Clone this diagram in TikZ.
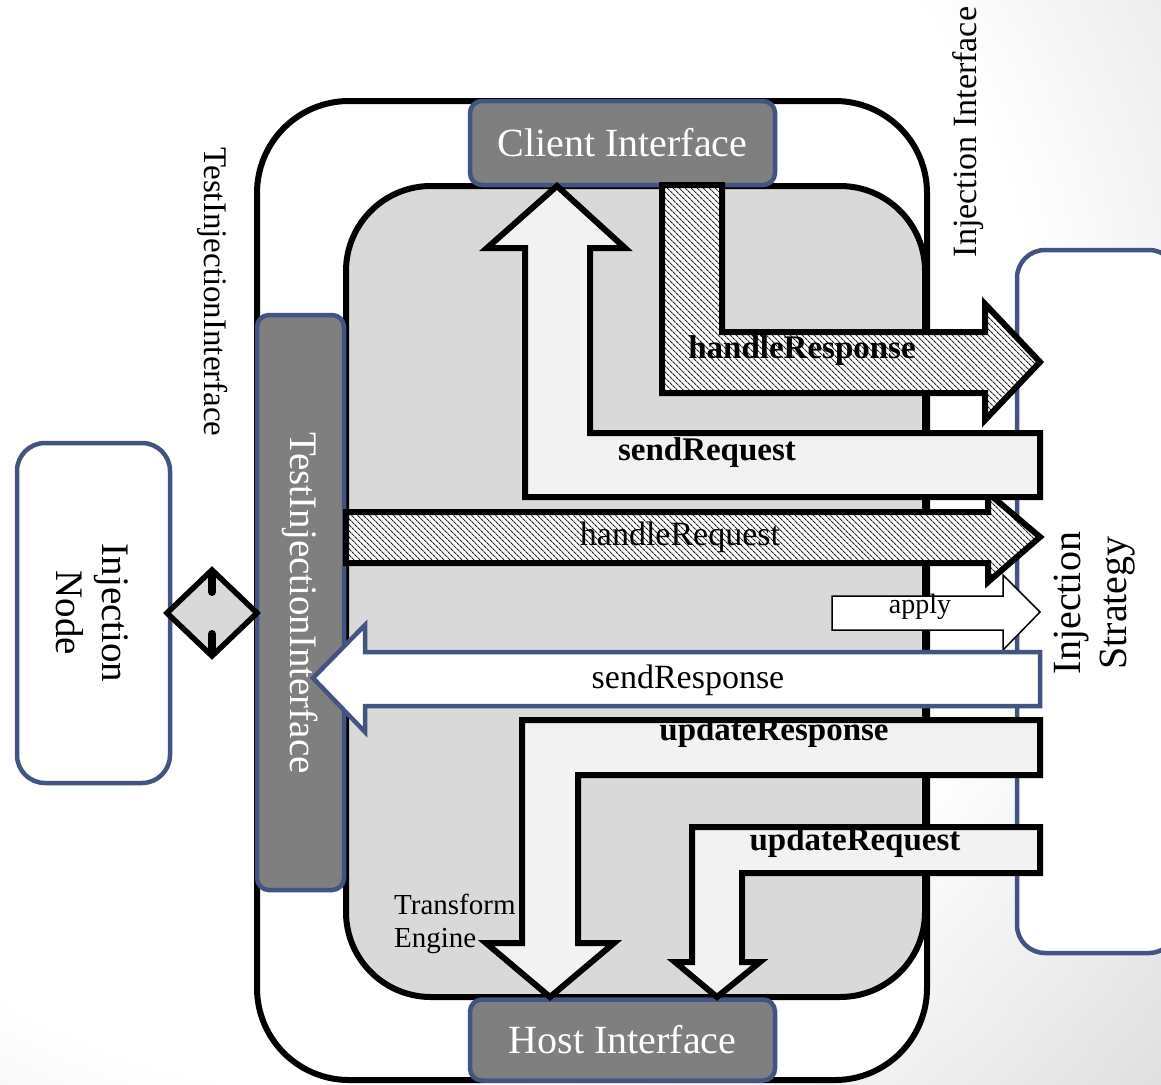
\documentclass[tikz,border=0pt]{standalone}
\usepackage{fontspec}
\setmainfont{Liberation Serif}
\usetikzlibrary{shapes.geometric,patterns.meta}
\definecolor{edgeblue}{RGB}{68,84,128}
\definecolor{boxgray}{RGB}{127,127,127}
\definecolor{innergray}{RGB}{217,217,217}
\definecolor{arrowfill}{RGB}{242,242,242}
\definecolor{bgedge}{RGB}{216,216,216}
\pgfdeclareradialshading{bgradial}{\pgfpointorigin}{color(0bp)=(white); color(15bp)=(white); color(25bp)=(bgedge); color(50bp)=(bgedge)}
\tikzset{
  ifacebox/.style={draw=edgeblue, line width=4.5pt, fill=boxgray, rounded corners=12pt, text=white, inner sep=0pt},
  plainbox/.style={draw=edgeblue, line width=4.5pt, fill=white, rounded corners=28pt, inner sep=0pt},
  blockarrow/.style={draw=black, line width=6pt, fill=arrowfill, line join=miter},
  hatcharrow/.style={draw=black, line width=6pt, line join=miter, preaction={fill=white},
    pattern={Lines[angle=-45,distance=4pt,line width=1.2pt]}, pattern color=black!85},
  boldlbl/.style={font=\fontsize{33}{36}\selectfont\bfseries, inner sep=0pt},
  reglbl/.style={font=\fontsize{34}{36}\selectfont, inner sep=0pt},
  biglbl/.style={font=\fontsize{40}{46}\selectfont, inner sep=0pt, align=center},
}
\begin{document}
\begin{tikzpicture}[x=1pt,y=-1pt]
\useasboundingbox (0,0) rectangle (1161,1084);
\clip (0,0) rectangle (1161,1084);
% background
\shade[shading=bgradial] (350,400) circle (1150);
% container shapes
\node[draw=black, line width=6pt, fill=white, rounded corners=92pt, minimum width=670pt, minimum height=979pt, inner sep=0pt] (outer) at (592,590.5) {};
\node[draw=black, line width=6pt, fill=innergray, rounded corners=85pt, minimum width=579pt, minimum height=811pt, inner sep=0pt] (inner) at (635.5,591.5) {};
% interface boxes
\node[ifacebox, minimum width=305pt, minimum height=84pt, font=\fontsize{40}{44}\selectfont] (client) at (622.5,143) {Client Interface};
\node[ifacebox, minimum width=305pt, minimum height=81pt, font=\fontsize{40}{44}\selectfont] (host) at (622.5,1040) {Host Interface};
\node[ifacebox, minimum width=87pt, minimum height=575pt] (tiibox) at (300.5,602.5) {};
\node[text=white, rotate=-90, font=\fontsize{39}{42}\selectfont, inner sep=0pt] (tiitext) at (300,603) {TestInjectionInterface};
% side boxes
\node[plainbox, minimum width=153pt, minimum height=340pt] (injnode) at (93.5,613) {};
\node[biglbl, rotate=-90, font=\fontsize{39}{46}\selectfont] (injnodetext) at (92,613) {Injection\\Node};
\node[plainbox, minimum width=160pt, minimum height=703pt] (strategy) at (1097,601.5) {};
\node[biglbl, rotate=90] (strategytext) at (1095,603) {Injection\\Strategy};
% diamond connector
\node[diamond, draw=black, line width=5.5pt, fill=innergray, minimum width=90pt, minimum height=86pt, inner sep=0pt, outer sep=0pt, aspect=1.05] (dia) at (212,613) {};
\draw[line width=8pt, line cap=round] ([yshift=-4pt]dia.north) -- ++(0,18);
\draw[line width=8pt, line cap=round] ([yshift=4pt]dia.south) -- ++(0,-18);
% outside labels
\node[rotate=-90, font=\fontsize{33}{36}\selectfont, inner sep=0pt] (tiilabel) at (213,292) {TestInjectionInterface};
\node[rotate=90, font=\fontsize{34}{36}\selectfont, inner sep=0pt] (injiflabel) at (968,132) {Injection Interface};
% transform engine label
\node[anchor=north west, align=left, font=\fontsize{29}{33}\selectfont, inner sep=0pt] (engine) at (394,894) {Transform\\Engine};
% arrows
\draw[hatcharrow] (662,185) -- (722,185) -- (722,332) -- (985,332) -- (985,304) -- (1040,362) -- (985,420) -- (985,393) -- (662,393) -- cycle;
\node[boldlbl] (lblHandleResp) at (802,351) {handleResponse};
\draw[hatcharrow] (346,512) -- (988,512) -- (988,493) -- (1040,537) -- (988,582) -- (988,563) -- (346,563) -- cycle;
\node[reglbl] (lblHandleReq) at (680,537) {handleRequest};
\draw[blockarrow] (1040,433) -- (590,433) -- (590,248) -- (625,248) -- (557,186) -- (487,248) -- (525,248) -- (525,497) -- (1040,497) -- cycle;
\node[boldlbl] (lblSendReq) at (707,453) {sendRequest};
\draw[draw=black, line width=1.5pt, fill=white, line join=miter] (832,596) -- (1003,596) -- (1003,575) -- (1040,612) -- (1003,650) -- (1003,630) -- (832,630) -- cycle;
\node[font=\fontsize{28}{30}\selectfont, inner sep=0pt] (lblApply) at (920,607) {apply};
\draw[draw=edgeblue, line width=4.5pt, fill=white, line join=miter] (1040,652) -- (365,652) -- (365,625) -- (313,678) -- (365,732) -- (365,706) -- (1040,706) -- cycle;
\node[reglbl] (lblSendResp) at (688,680) {sendResponse};
\draw[blockarrow] (1040,720) -- (522,720) -- (522,943) -- (486,943) -- (550,997) -- (614,943) -- (578,943) -- (578,775) -- (1040,775) -- cycle;
\node[boldlbl] (lblUpdResp) at (774,733) {updateResponse};
\draw[blockarrow] (1040,827) -- (692,827) -- (692,962) -- (675,962) -- (717,997) -- (760,962) -- (742,962) -- (742,873) -- (1040,873) -- cycle;
\node[boldlbl] (lblUpdReq) at (855,843) {updateRequest};
\end{tikzpicture}
\end{document}
